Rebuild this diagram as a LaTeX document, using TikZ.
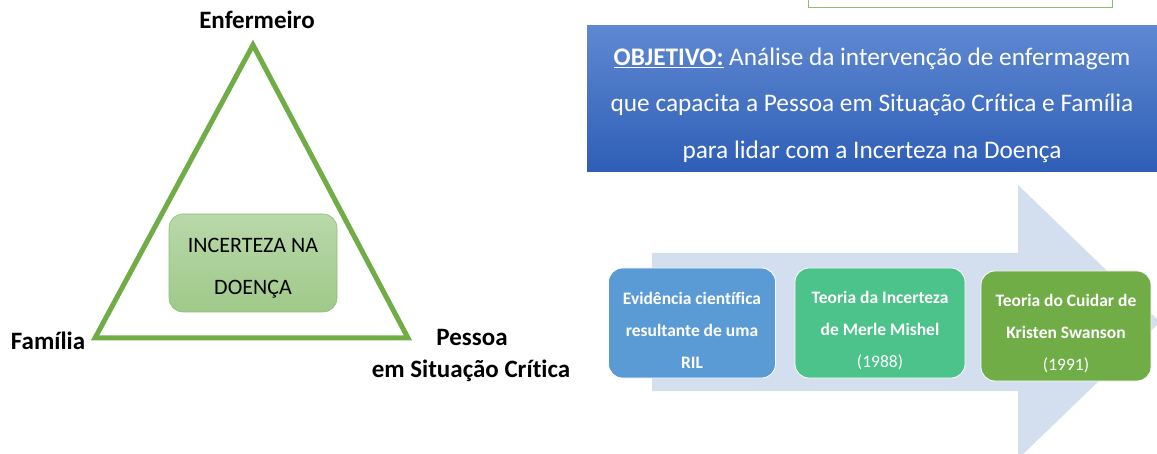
\documentclass[tikz,border=0pt]{standalone}
\usepackage{fontspec}
\setmainfont{Carlito}[Ligatures=CommonOff]
\definecolor{trigreen}{HTML}{70AD47}
\definecolor{boxtop}{HTML}{B8D8A9}
\definecolor{boxbot}{HTML}{A0C98A}
\definecolor{boxline}{HTML}{8DBE74}
\definecolor{bluetop}{HTML}{5E88D1}
\definecolor{bluebot}{HTML}{2F5EB7}
\definecolor{arrowfill}{HTML}{D3DEEF}
\definecolor{stepblue}{HTML}{5B9BD5}
\definecolor{stepteal}{HTML}{4CC38A}
\definecolor{stepgreen}{HTML}{70AD47}
\tikzset{
  vlabel/.style={font=\fontsize{25}{28}\selectfont\bfseries, inner sep=0pt, align=center},
  stepbox/.style={rounded corners=14pt, draw=white, line width=0.8pt, minimum width=167pt, minimum height=110pt, inner sep=0pt},
  steptext/.style={text=white, align=center, inner sep=0pt, font=\fontsize{17.5}{32}\selectfont\bfseries},
}
\begin{document}
\begin{tikzpicture}[x=1pt,y=-1pt]
\useasboundingbox (0,0) rectangle (1157,454);
\clip (0,0) rectangle (1157,454);
% top green-bordered rectangle (partly off page)
\node[draw=trigreen!80, line width=0.8pt, minimum width=304pt, minimum height=24pt, inner sep=0pt] (topbox) at (960,-5) {};
% objective box
\node[top color=bluetop, bottom color=bluebot, minimum width=572pt, minimum height=146pt, inner sep=0pt] (obj) at (873,99) {};
\node[text=white, align=center, inner sep=0pt, font=\fontsize{25.3}{46.5}\selectfont] (objtext) at (872,105)
  {\underline{\textbf{OBJETIVO:}} Análise da intervenção de enfermagem\\
   que capacita a Pessoa em Situação Crítica e Família\\
   para lidar com a Incerteza na Doença};
% triangle
\coordinate (apex) at (253,45);
\coordinate (bl) at (95,338);
\coordinate (br) at (408,338);
\draw[trigreen, line width=5pt, line join=miter] (apex) -- (bl) -- (br) -- cycle;
\node[rounded corners=14pt, top color=boxtop, bottom color=boxbot, draw=boxline, line width=0.6pt,
  minimum width=168pt, minimum height=98pt, inner sep=0pt] (unc) at (253,263) {};
\node[align=center, inner sep=0pt, font=\fontsize{22}{42}\selectfont] (unctext) at (253,268) {INCERTEZA NA\\DOENÇA};
\node[vlabel] (enf) at (257,20) {Enfermeiro};
\node[vlabel] (fam) at (48,341) {Família};
\node[vlabel] (pes) at (472,337) {Pessoa};
\node[vlabel] (sit) at (471,371) {em Situação Crítica};
% process arrow
\fill[arrowfill] (652,253) -- (1018,253) -- (1018,185) -- (1160,322) -- (1018,459) -- (1018,391) -- (652,391) -- cycle;
\node[stepbox, fill=stepblue] (s1) at (692,323) {};
\node[stepbox, fill=stepteal, minimum width=170pt] (s2) at (880,323) {};
\node[stepbox, fill=stepgreen, minimum width=170pt] (s3) at (1066,326) {};
\node[steptext] (t1) at (692,330) {Evidência científica\\resultante de uma\\RIL};
\node[steptext] (t2) at (880,331) {Teoria da Incerteza\\de Merle Mishel\\\mdseries(1988)};
\node[steptext] (t3) at (1066,334) {Teoria do Cuidar de\\Kristen Swanson\\\mdseries(1991)};
\end{tikzpicture}
\end{document}
